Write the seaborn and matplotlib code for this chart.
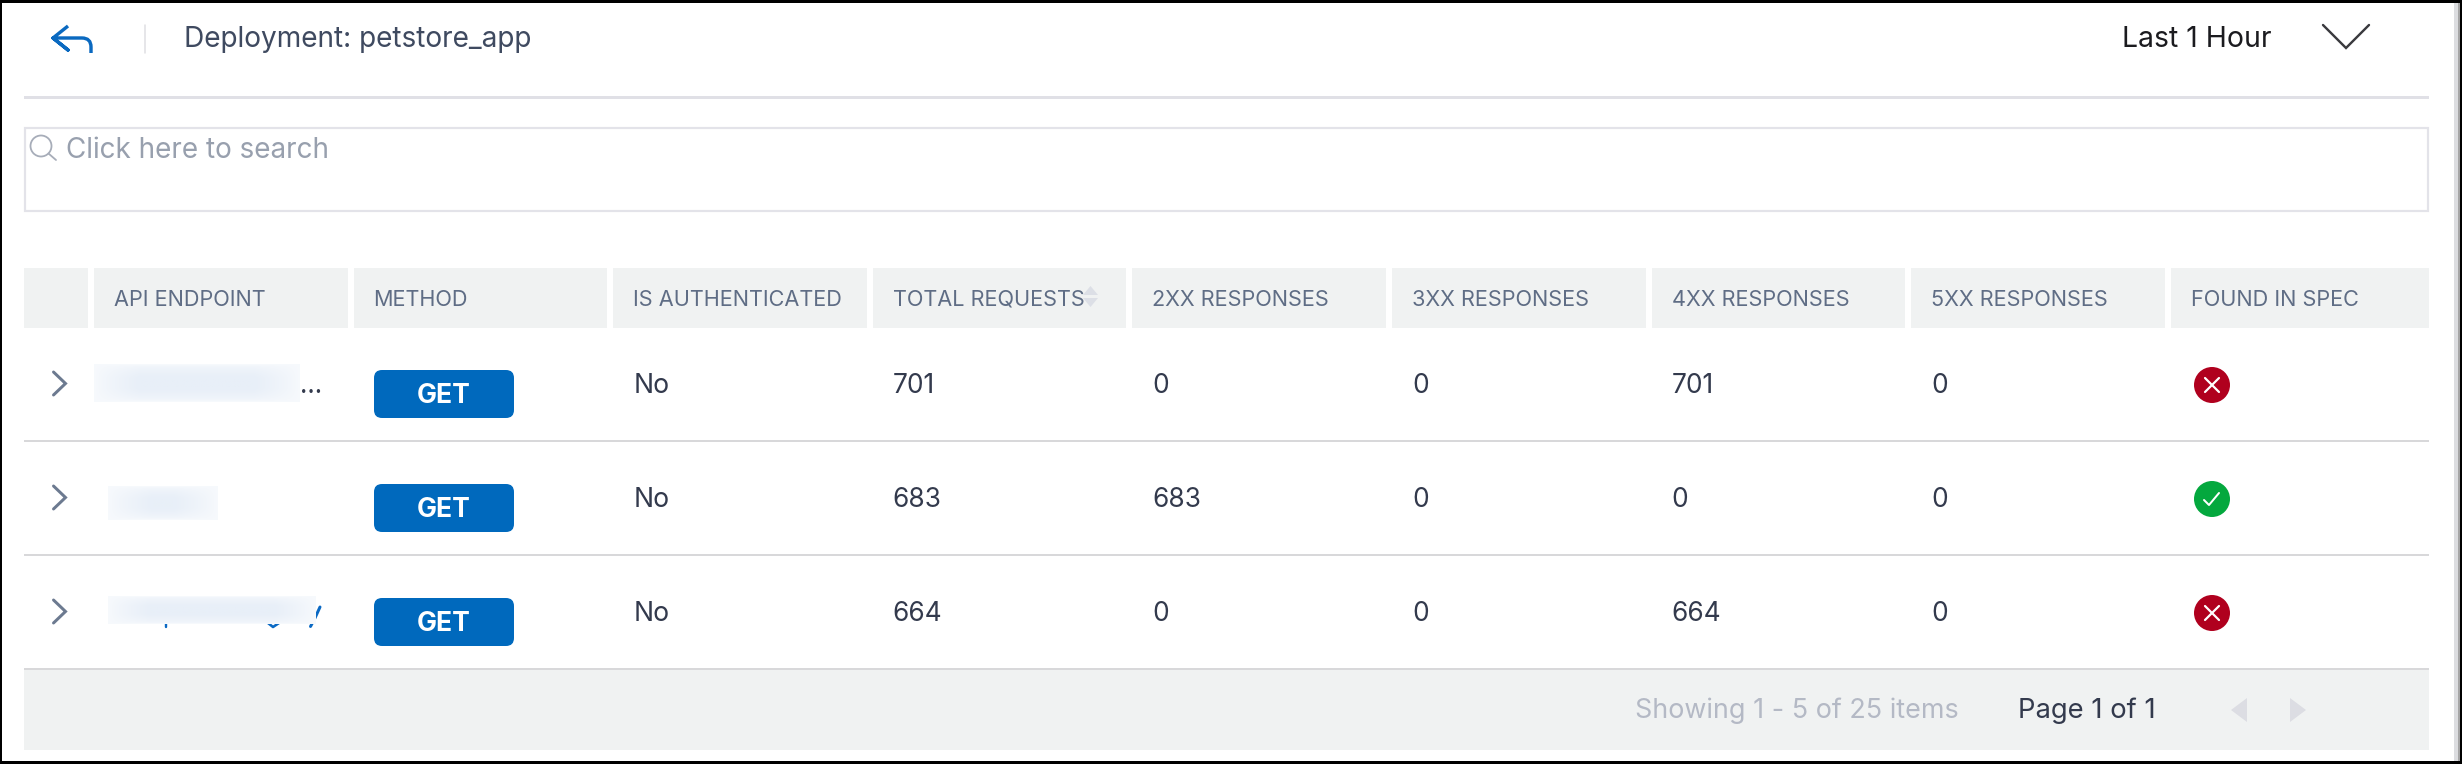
import numpy as np
import pandas as pd
import matplotlib
matplotlib.use("Agg")
import matplotlib.pyplot as plt
from matplotlib.patches import Rectangle, FancyBboxPatch, Polygon, Ellipse, PathPatch
from matplotlib.path import Path
import seaborn as sns

# ---- content ----
title = "Deployment: petstore_app"
range_label = "Last 1 Hour"
search_hint = "Click here to search"
columns = ["API ENDPOINT", "METHOD", "IS AUTHENTICATED", "TOTAL REQUESTS", "2XX RESPONSES",
           "3XX RESPONSES", "4XX RESPONSES", "5XX RESPONSES", "FOUND IN SPEC"]
methods = ["GET", "GET", "GET"]
authenticated = ["No", "No", "No"]
total_requests = [701, 683, 664]
resp_2xx = [0, 683, 0]
resp_3xx = [0, 0, 0]
resp_4xx = [701, 0, 664]
resp_5xx = [0, 0, 0]
found_in_spec = [False, True, False]
footer_showing = "Showing 1 - 5 of 25 items"
footer_page = "Page 1 of 1"

W, H = 2462, 764
sns.set_theme(style="white")
plt.rcParams["font.family"] = ["Inter", "DejaVu Sans"]

fig = plt.figure(figsize=(W / 100, H / 100), dpi=100, facecolor="white")
ax = fig.add_axes([0, 0, 1, 1])
ax.set_xlim(0, W)
ax.set_ylim(H, 0)
ax.axis("off")

pt = 0.72
HEAD_BG = "#f0f2f2"
INK = "#333a4d"
SLATE = "#5f6d85"
BLUE = "#0069bd"


def rect(x0, y0, x1, y1, color, z=1, **kw):
    ax.add_patch(Rectangle((x0, y0), x1 - x0, y1 - y0, facecolor=color, edgecolor="none", zorder=z, **kw))


def label(x, y, s, px, color, **kw):
    ax.text(x, y, s, fontsize=px * pt, color=color, va="baseline", zorder=5, **kw)


# window frame
rect(0, 0, W, 2.5, "#000000", 8)
rect(0, 761, W, H, "#000000", 8)
rect(0, 0, 2, H, "#000000", 8)
rect(2460, 0, W, H, "#000000", 8)
rect(2454, 2, 2458, 761, "#dcdde0", 7)
rect(2458, 2, 2460, 761, "#a6a6a6", 7)

# top bar
arrow = Path([(68, 26), (53, 38), (68, 50), (53, 38), (82, 38), (91, 38), (91, 47), (91, 53)],
             [Path.MOVETO, Path.LINETO, Path.LINETO, Path.LINETO, Path.LINETO, Path.CURVE3, Path.CURVE3, Path.LINETO])
ax.add_patch(PathPatch(arrow, facecolor="none", edgecolor="#0a69c0", lw=3.4 * pt, zorder=5, joinstyle="round"))
ax.plot([145, 145], [25, 53], color="#e0e0e4", lw=1.6 * pt, zorder=3)
label(184, 47, title, 28, "#3f4a60")
label(2122, 47, range_label, 28.4, "#1b1b1f")
ax.plot([2323, 2346, 2369], [25, 48, 25], color="#3a3a3e", lw=2.4 * pt, zorder=5, solid_joinstyle="miter")
rect(24, 96, 2429, 98.5, "#e0e0e6", 2)

# search box
ax.add_patch(Rectangle((25, 127.5), 2403, 83, facecolor="white", edgecolor="#e3e3e9", lw=2.2 * pt, zorder=2))
ax.add_patch(Ellipse((41, 146), 21, 21, facecolor="none", edgecolor="#a7adb9", lw=1.8 * pt, zorder=5))
ax.plot([48.5, 56], [153.5, 160], color="#a7adb9", lw=1.8 * pt, zorder=5)
label(66, 158, search_hint, 27.9, "#98a0ae")

# column layout
col_left = [94 + 259.6 * i for i in range(9)]
col_right = [c + 253.5 for c in col_left]
col_right[-1] = 2429
text_x = [c + 20 for c in col_left]

rect(24, 268, 88, 328, HEAD_BG)
for i, name in enumerate(columns):
    rect(col_left[i], 268, col_right[i], 328, HEAD_BG)
    label(text_x[i], 305.5, name, 21.7, SLATE)

# sort icon on TOTAL REQUESTS
ax.add_patch(Polygon([(1083, 295), (1090.5, 286), (1098, 295)], facecolor="#dcdfe6", edgecolor="none", zorder=6))
ax.add_patch(Polygon([(1083, 298), (1090.5, 307), (1098, 298)], facecolor="#dcdfe6", edgecolor="none", zorder=6))

# rows
row_base = [393, 507, 621]
row_lines = [441, 555, 669]
col_values = [total_requests, resp_2xx, resp_3xx, resp_4xx, resp_5xx]

for r in range(3):
    rect(24, row_lines[r] - 1, 2429, row_lines[r] + 1, "#d8d8da", 3)
    # expander chevron
    y0 = row_base[r] - 21
    ax.plot([53.5, 65.5, 53.5], [y0, y0 + 11.5, y0 + 23], color="#6c7a90", lw=3 * pt, zorder=5,
            solid_joinstyle="miter")
    # method button
    by = row_base[r] - 23
    ax.add_patch(FancyBboxPatch((374, by), 140, 48, boxstyle="round,pad=0,rounding_size=8",
                                facecolor=BLUE, edgecolor="none", zorder=4))
    ax.text(444, by + 33, methods[r], fontsize=26.5 * pt, fontweight="bold", color="white",
            ha="center", va="baseline", zorder=5)
    label(text_x[2], row_base[r], authenticated[r], 26.5, INK)
    for k, vals in enumerate(col_values):
        label(text_x[3 + k], row_base[r], str(vals[r]), 26.3, INK)


# blurred (redacted) endpoint names
def smudge(x0, y0, x1, y1, fade):
    nx, ny = 120, 30
    xs = np.linspace(0, 1, nx)
    ys = np.linspace(0, 1, ny)
    ex = np.clip(np.minimum(xs, 1 - xs) / fade, 0, 1)
    ey = np.clip(np.minimum(ys, 1 - ys) / 0.35, 0, 1)
    a = 0.35 + 0.65 * np.outer(ey ** 0.5, ex ** 0.8)
    img = np.ones((ny, nx, 3))
    base = np.array([0xe8, 0xef, 0xf8]) / 255
    for c in range(3):
        img[..., c] = 1 - a * (1 - base[c])
    ax.imshow(img, extent=(x0, x1, y1, y0), aspect="auto", zorder=6, interpolation="bilinear")


smudge(94, 364, 300, 402, 0.22)
smudge(108, 486, 218, 520, 0.4)
smudge(108, 596, 316, 624, 0.2)
ax.set_xlim(0, W)
ax.set_ylim(H, 0)
# traces of link text and ellipsis that stick out of the blur
label(300, 393, "...", 26, INK)
ax.plot([165.5, 165.5], [622, 626.5], color="#0a69c4", lw=2.4 * pt, zorder=5)
ax.plot([268, 273, 279], [623, 627, 623], color="#0a69c4", lw=2.6 * pt, zorder=5)
ax.plot([320, 315, 310.5], [607, 618, 626.5], color="#0a69c4", lw=3 * pt, zorder=5)

# status markers
STATUS_X = 2212
status = pd.DataFrame({"col": [STATUS_X] * 3, "row": [r - 8 for r in row_base],
                       "found": found_in_spec})
sns.scatterplot(data=status, x="col", y="row", hue="found", palette={True: "#04a83e", False: "#b0001e"},
                s=(36 * pt) ** 2, linewidth=0, legend=False, ax=ax, zorder=5)
ax.set_xlim(0, W)
ax.set_ylim(H, 0)
ax.axis("off")
for r, ok in enumerate(found_in_spec):
    cx, cy = STATUS_X, row_base[r] - 8
    if ok:
        ax.plot([cx - 8, cx - 3, cx + 7], [cy + 1, cy + 6, cy - 6], color="white", lw=2 * pt, zorder=6)
    else:
        ax.plot([cx - 7, cx + 7], [cy - 7, cy + 7], color="white", lw=2.2 * pt, zorder=6)
        ax.plot([cx - 7, cx + 7], [cy + 7, cy - 7], color="white", lw=2.2 * pt, zorder=6)

# footer
rect(24, 670, 2429, 750, HEAD_BG, 1)
label(1635, 718, footer_showing, 26.9, "#b4b9c5")
label(2018, 718, footer_page, 27.4, INK)
ax.add_patch(Polygon([(2247, 698), (2231, 710), (2247, 722)], facecolor="#dcdde3", edgecolor="none", zorder=5))
ax.add_patch(Polygon([(2290, 698), (2306, 710), (2290, 722)], facecolor="#dcdde3", edgecolor="none", zorder=5))

fig.savefig("out.png", dpi=100, facecolor="white")
